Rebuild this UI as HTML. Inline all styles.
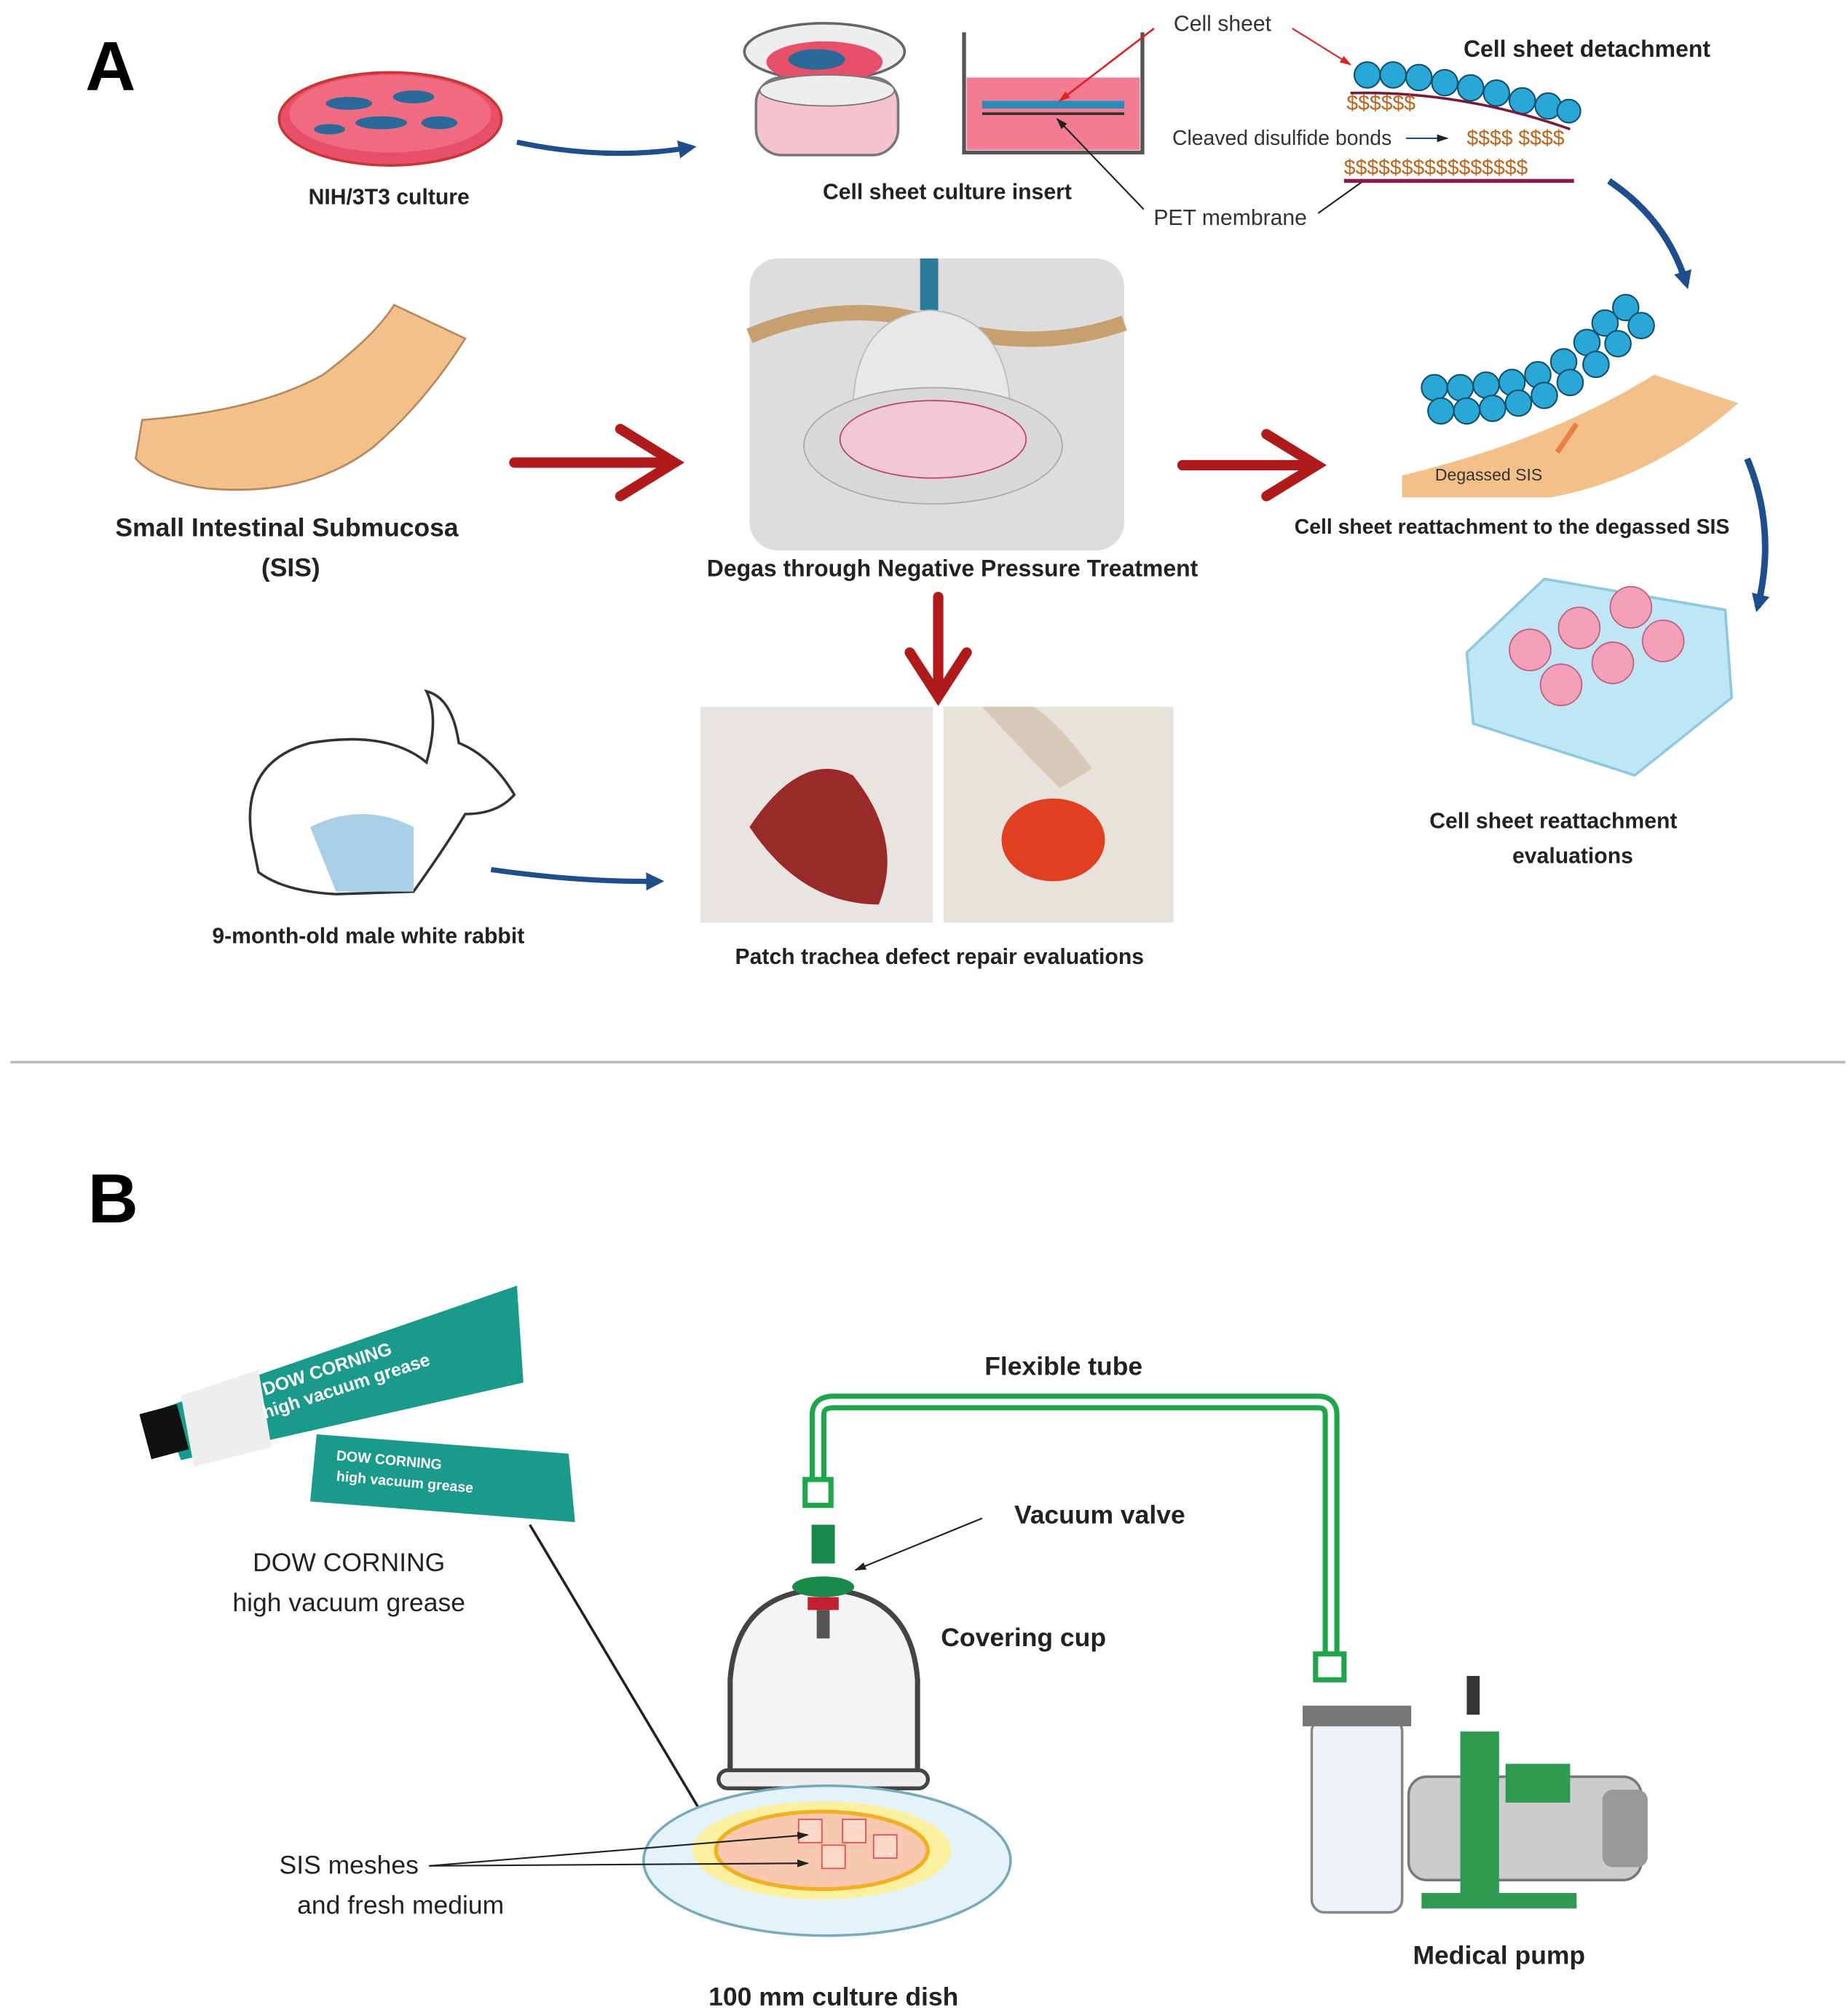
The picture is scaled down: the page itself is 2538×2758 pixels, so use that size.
<!DOCTYPE html>
<html><head><meta charset="utf-8">
<style>
html,body{margin:0;padding:0;background:#fff;}
svg{display:block;}
text{font-family:"Liberation Sans",sans-serif;}
</style></head>
<body>
<svg width="2538" height="2758" viewBox="0 0 1430 1554" preserveAspectRatio="none" xmlns="http://www.w3.org/2000/svg">
<defs>
<marker id="bh" markerUnits="userSpaceOnUse" markerWidth="16" markerHeight="14" refX="10" refY="7" orient="auto"><path d="M0,0 L14,7 L0,14 Z" fill="#1f4e8c"/></marker>
<marker id="kh" markerUnits="userSpaceOnUse" markerWidth="10" markerHeight="8" refX="8" refY="4" orient="auto"><path d="M0,1 L9,4 L0,7 Z" fill="#222"/></marker>
<marker id="rh" markerUnits="userSpaceOnUse" markerWidth="10" markerHeight="8" refX="8" refY="4" orient="auto"><path d="M0,1 L9,4 L0,7 Z" fill="#d22"/></marker>
</defs>
<rect width="1430" height="1554" fill="#fff"/>
<text x="66" y="70" font-size="54" font-weight="bold">A</text>
<ellipse cx="302" cy="92" rx="86" ry="36" fill="#e8506a" stroke="#c33" stroke-width="2"/>
<ellipse cx="302" cy="88" rx="78" ry="30" fill="#f06a80"/>
<g fill="#2a6a9a"><ellipse cx="270" cy="80" rx="18" ry="5"/><ellipse cx="320" cy="75" rx="16" ry="5"/><ellipse cx="295" cy="95" rx="20" ry="5"/><ellipse cx="340" cy="95" rx="14" ry="5"/><ellipse cx="255" cy="100" rx="12" ry="4"/></g>
<text x="301" y="158" font-size="17" font-weight="bold" text-anchor="middle" fill="#222">NIH/3T3 culture</text>
<path d="M400,110 Q470,125 535,114" fill="none" stroke="#1f4e8c" stroke-width="4" marker-end="url(#bh)"/>
<ellipse cx="638" cy="40" rx="62" ry="22" fill="#eee" stroke="#666" stroke-width="2"/>
<ellipse cx="638" cy="48" rx="45" ry="16" fill="#e8506a"/>
<ellipse cx="632" cy="46" rx="22" ry="8" fill="#2a6a9a"/>
<rect x="585" y="60" width="110" height="60" rx="20" fill="#f7c2d0" stroke="#777" stroke-width="2"/>
<ellipse cx="640" cy="70" rx="52" ry="12" fill="#eee" stroke="#777"/>
<text x="733" y="154" font-size="17" font-weight="bold" text-anchor="middle" fill="#222">Cell sheet culture insert</text>
<path d="M746,25 L746,118 L884,118 L884,25" fill="none" stroke="#555" stroke-width="3"/>
<rect x="748" y="60" width="134" height="56" fill="#f27c92"/>
<rect x="760" y="78" width="110" height="6" fill="#2a8ab8"/>
<line x1="760" y1="88" x2="870" y2="88" stroke="#333" stroke-width="2"/>
<line x1="893" y1="22" x2="820" y2="78" stroke="#d22" stroke-width="1.5" marker-end="url(#rh)"/>
<text x="946" y="24" font-size="17" text-anchor="middle" fill="#333">Cell sheet</text>
<line x1="885" y1="162" x2="818" y2="92" stroke="#222" stroke-width="1.2" marker-end="url(#kh)"/>
<text x="952" y="174" font-size="17" text-anchor="middle" fill="#333">PET membrane</text>
<line x1="1020" y1="165" x2="1055" y2="140" stroke="#222" stroke-width="1.2"/>
<text x="992" y="112" font-size="16" text-anchor="middle" fill="#333">Cleaved disulfide bonds</text>
<line x1="1088" y1="107" x2="1120" y2="107" stroke="#1f4e8c" stroke-width="1.2" marker-end="url(#kh)"/>
<line x1="1000" y1="22" x2="1045" y2="50" stroke="#d22" stroke-width="1.2" marker-end="url(#rh)"/>
<text x="1228" y="44" font-size="18" font-weight="bold" text-anchor="middle" fill="#222">Cell sheet detachment</text>
<g fill="#29a8d8" stroke="#14506e" stroke-width="1.2">
<circle cx="1058" cy="58" r="10"/><circle cx="1078" cy="58" r="10"/><circle cx="1098" cy="60" r="10"/><circle cx="1118" cy="64" r="10"/><circle cx="1138" cy="68" r="10"/><circle cx="1158" cy="72" r="10"/><circle cx="1178" cy="78" r="10"/><circle cx="1198" cy="82" r="10"/><circle cx="1214" cy="86" r="9"/></g>
<path d="M1045,72 Q1130,70 1215,100" fill="none" stroke="#7a1a3a" stroke-width="2"/>
<text x="1042" y="85" font-size="16" fill="#c0641c">$$$$$$</text>
<text x="1135" y="112" font-size="16" fill="#c0641c">$$$$ $$$$</text>
<text x="1040" y="135" font-size="16" fill="#c0641c">$$$$$$$$$$$$$$$$</text>
<line x1="1040" y1="140" x2="1218" y2="140" stroke="#8a1a4a" stroke-width="3"/>
<path d="M1245,140 Q1290,170 1305,220" fill="none" stroke="#1f4e8c" stroke-width="5" marker-end="url(#bh)"/>
<path d="M110,325 Q200,318 250,290 Q290,260 305,236 L360,262 Q330,310 290,345 Q240,385 160,378 Q120,372 105,355 Z" fill="#f3c08a" stroke="#b58860" stroke-width="1.5"/>
<text x="222" y="415" font-size="20" font-weight="bold" text-anchor="middle" fill="#222">Small Intestinal Submucosa</text>
<text x="225" y="446" font-size="20" font-weight="bold" text-anchor="middle" fill="#222">(SIS)</text>
<g stroke="#b01a1a" stroke-width="8" fill="none" stroke-linecap="round">
<line x1="398" y1="358" x2="520" y2="358"/><polyline points="480,332 522,358 480,384"/>
<line x1="915" y1="360" x2="1017" y2="360"/><polyline points="980,336 1019,360 980,384"/>
<line x1="726" y1="462" x2="726" y2="537"/><polyline points="704,505 726,539 748,505"/>
</g>
<rect x="580" y="200" width="290" height="226" rx="22" fill="#ddd"/>
<path d="M580,260 Q650,230 720,250 Q800,275 870,250" fill="none" stroke="#c8a070" stroke-width="12"/>
<rect x="712" y="200" width="14" height="40" fill="#2a7a9a"/>
<path d="M660,320 Q660,245 720,240 Q780,245 782,320 Z" fill="#e8e8ea" stroke="#bbb"/>
<ellipse cx="722" cy="345" rx="100" ry="45" fill="#d8d8da" stroke="#aaa"/>
<ellipse cx="722" cy="340" rx="72" ry="30" fill="#f0c8d6" stroke="#c04070"/>
<text x="737" y="446" font-size="18" font-weight="bold" text-anchor="middle" fill="#222">Degas through  Negative Pressure  Treatment</text>
<path d="M1085,368 Q1200,340 1280,290 L1345,312 Q1280,370 1200,385 L1085,385 Z" fill="#f3c08a"/>
<g fill="#29a8d8" stroke="#14506e" stroke-width="1.2">
<circle cx="1110" cy="300" r="10"/><circle cx="1130" cy="300" r="10"/><circle cx="1150" cy="298" r="10"/><circle cx="1170" cy="296" r="10"/><circle cx="1190" cy="290" r="10"/><circle cx="1210" cy="280" r="10"/><circle cx="1228" cy="265" r="10"/><circle cx="1242" cy="250" r="10"/><circle cx="1258" cy="238" r="10"/>
<circle cx="1115" cy="318" r="10"/><circle cx="1135" cy="318" r="10"/><circle cx="1155" cy="316" r="10"/><circle cx="1175" cy="312" r="10"/><circle cx="1195" cy="306" r="10"/><circle cx="1215" cy="296" r="10"/><circle cx="1235" cy="282" r="10"/><circle cx="1252" cy="266" r="10"/><circle cx="1270" cy="252" r="10"/></g>
<line x1="1205" y1="350" x2="1220" y2="328" stroke="#e88040" stroke-width="4"/>
<text x="1152" y="372" font-size="13" text-anchor="middle" fill="#333">Degassed SIS</text>
<text x="1170" y="413" font-size="16" font-weight="bold" text-anchor="middle" fill="#222">Cell sheet reattachment to the degassed SIS</text>
<path d="M1352,355 Q1375,410 1360,470" fill="none" stroke="#1f4e8c" stroke-width="5" marker-end="url(#bh)"/>
<path d="M1135,505 L1195,448 L1335,472 L1340,540 L1265,600 L1140,560 Z" fill="#bfe6f5" stroke="#8cc8e0" stroke-width="2"/>
<g fill="#f3a0b8" stroke="#c06080"><circle cx="1184" cy="503" r="16"/><circle cx="1222" cy="486" r="16"/><circle cx="1262" cy="470" r="16"/><circle cx="1208" cy="530" r="16"/><circle cx="1248" cy="513" r="16"/><circle cx="1287" cy="496" r="16"/></g>
<text x="1202" y="641" font-size="17" font-weight="bold" text-anchor="middle" fill="#222">Cell sheet reattachment</text>
<text x="1217" y="668" font-size="17" font-weight="bold" text-anchor="middle" fill="#222">evaluations</text>
<path d="M195,650 Q185,590 240,575 Q300,565 330,590 Q340,555 330,535 Q350,540 355,575 Q380,585 398,615 Q385,630 360,630 Q345,655 320,690 L260,692 Q220,690 200,675 Z" fill="#fff" stroke="#333" stroke-width="2"/>
<path d="M240,640 Q280,620 320,640 L320,690 L260,690 Z" fill="#a8cfe6"/>
<text x="285" y="730" font-size="17" font-weight="bold" text-anchor="middle" fill="#222">9-month-old  male white rabbit</text>
<path d="M380,673 Q450,683 510,682" fill="none" stroke="#1f4e8c" stroke-width="4" marker-end="url(#bh)"/>
<rect x="542" y="547" width="180" height="167" fill="#e8e4e0"/>
<path d="M580,640 Q620,580 660,600 Q700,650 680,700 Q620,700 580,640 Z" fill="#9a2a2a"/>
<rect x="730" y="547" width="178" height="167" fill="#e8e2dc"/>
<ellipse cx="815" cy="650" rx="40" ry="32" fill="#e04020"/>
<path d="M760,547 Q790,580 820,610 L845,595 Q820,560 800,547 Z" fill="#d8c8b8"/>
<text x="727" y="746" font-size="17" font-weight="bold" text-anchor="middle" fill="#222">Patch trachea defect repair evaluations</text>
<line x1="8" y1="822" x2="1428" y2="822" stroke="#bbb" stroke-width="2"/>
<text x="68" y="946" font-size="54" font-weight="bold">B</text>
<polygon points="125,1090 400,995 405,1070 140,1130" fill="#1a9a8a"/>
<polygon points="140,1080 200,1060 210,1120 150,1135" fill="#eee"/>
<rect x="112" y="1090" width="30" height="36" fill="#111" transform="rotate(-15 127 1108)"/>
<polygon points="245,1110 440,1125 445,1178 240,1162" fill="#1a9a8a"/>
<text x="205" y="1080" font-size="14" font-weight="bold" fill="#fff" transform="rotate(-18 205 1080)">DOW CORNING</text>
<text x="205" y="1098" font-size="14" font-weight="bold" fill="#fff" transform="rotate(-18 205 1098)">high vacuum grease</text>
<text x="260" y="1130" font-size="11" font-weight="bold" fill="#fff" transform="rotate(5 260 1130)">DOW CORNING</text>
<text x="260" y="1146" font-size="11" font-weight="bold" fill="#fff" transform="rotate(5 260 1146)">high vacuum grease</text>
<text x="270" y="1216" font-size="20" text-anchor="middle" fill="#222">DOW CORNING</text>
<text x="270" y="1247" font-size="20" text-anchor="middle" fill="#222">high vacuum grease</text>
<line x1="410" y1="1180" x2="550" y2="1415" stroke="#222" stroke-width="2" marker-end="url(#kh)"/>
<path d="M633,1148 L633,1095 Q633,1085 645,1085 L1020,1085 Q1030,1085 1030,1095 L1030,1282" fill="none" stroke="#1fa64a" stroke-width="13"/>
<path d="M633,1148 L633,1095 Q633,1085 645,1085 L1020,1085 Q1030,1085 1030,1095 L1030,1282" fill="none" stroke="#fff" stroke-width="5"/>
<rect x="623" y="1145" width="20" height="20" fill="#fff" stroke="#1fa64a" stroke-width="4"/>
<rect x="1018" y="1280" width="22" height="20" fill="#fff" stroke="#1fa64a" stroke-width="4"/>
<text x="823" y="1064" font-size="20" font-weight="bold" text-anchor="middle" fill="#222">Flexible tube</text>
<text x="851" y="1179" font-size="20" font-weight="bold" text-anchor="middle" fill="#222">Vacuum valve</text>
<line x1="760" y1="1175" x2="662" y2="1215" stroke="#222" stroke-width="1.2" marker-end="url(#kh)"/>
<path d="M565,1380 L565,1300 Q570,1232 637,1230 Q705,1232 710,1300 L710,1380" fill="#f4f4f6" stroke="#444" stroke-width="4"/>
<rect x="556" y="1370" width="162" height="14" rx="7" fill="#eee" stroke="#444" stroke-width="3"/>
<rect x="628" y="1180" width="18" height="30" fill="#1a8a4a"/>
<ellipse cx="637" cy="1228" rx="24" ry="8" fill="#1a8a4a"/>
<rect x="625" y="1236" width="24" height="10" fill="#c02030"/>
<rect x="632" y="1246" width="10" height="22" fill="#555"/>
<text x="792" y="1274" font-size="20" font-weight="bold" text-anchor="middle" fill="#222">Covering cup</text>
<ellipse cx="640" cy="1440" rx="142" ry="58" fill="#e4f2fa" stroke="#7ab" stroke-width="2"/>
<ellipse cx="636" cy="1432" rx="100" ry="38" fill="#fbf0a0"/>
<ellipse cx="636" cy="1432" rx="82" ry="30" fill="#f8c8b0" stroke="#f0b020" stroke-width="3"/>
<g fill="#fcd8c8" stroke="#e05050"><rect x="618" y="1408" width="18" height="18"/><rect x="652" y="1408" width="18" height="18"/><rect x="676" y="1420" width="18" height="18"/><rect x="636" y="1428" width="18" height="18"/></g>
<text x="270" y="1450" font-size="20" text-anchor="middle" fill="#222">SIS meshes</text>
<text x="310" y="1481" font-size="20" text-anchor="middle" fill="#222">and fresh medium</text>
<line x1="332" y1="1444" x2="625" y2="1420" stroke="#222" stroke-width="1.2" marker-end="url(#kh)"/>
<line x1="332" y1="1444" x2="625" y2="1442" stroke="#222" stroke-width="1.2" marker-end="url(#kh)"/>
<text x="645" y="1552" font-size="20" font-weight="bold" text-anchor="middle" fill="#222">100 mm culture dish</text>
<rect x="1015" y="1330" width="70" height="150" rx="10" fill="#eef2f4" stroke="#888" stroke-width="2"/>
<rect x="1008" y="1320" width="84" height="16" fill="#777"/>
<rect x="1090" y="1375" width="180" height="80" rx="14" fill="#ccc" stroke="#777" stroke-width="2"/>
<rect x="1240" y="1385" width="35" height="60" rx="8" fill="#999"/>
<rect x="1130" y="1340" width="30" height="130" fill="#2e9a50"/>
<rect x="1165" y="1365" width="50" height="30" fill="#2e9a50"/>
<rect x="1100" y="1465" width="120" height="12" fill="#2e9a50"/>
<rect x="1135" y="1297" width="10" height="30" fill="#333"/>
<text x="1160" y="1520" font-size="20" font-weight="bold" text-anchor="middle" fill="#222">Medical  pump</text>
</svg>
</body></html>
